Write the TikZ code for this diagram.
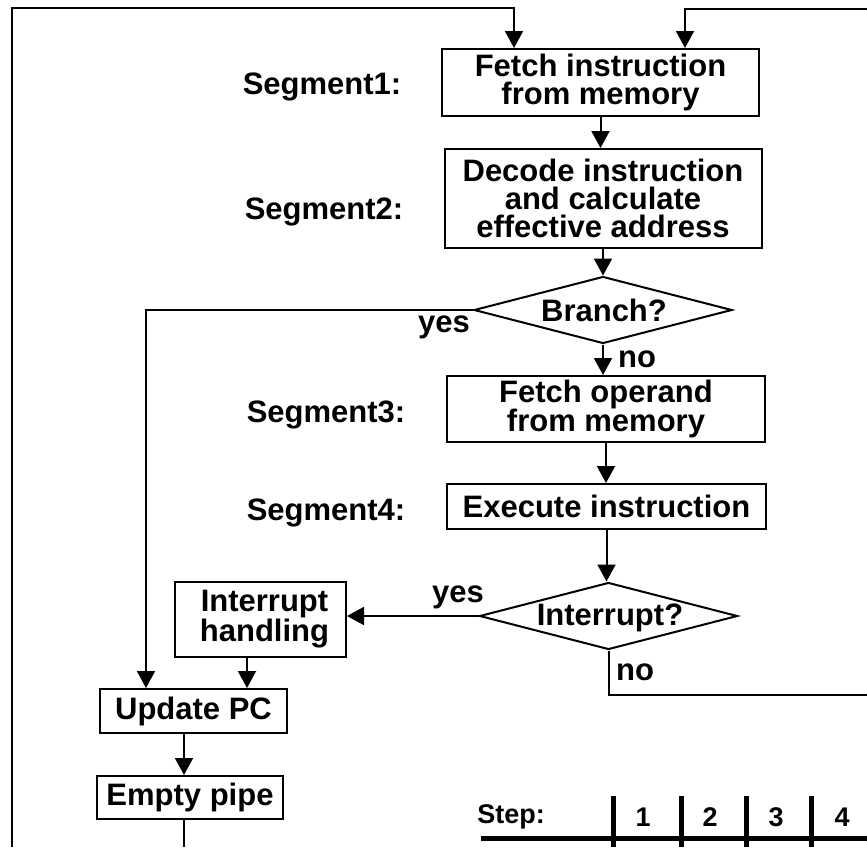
\documentclass[tikz,border=0pt]{standalone}
\usepackage{fontspec}
\setmainfont{Liberation Sans}
\usetikzlibrary{arrows.meta,shapes.geometric}
\begin{document}
\begin{tikzpicture}[x=1pt,y=-1pt,
  every node/.style={font=\bfseries\fontsize{31}{28}\selectfont, inner sep=0pt},
  box/.style={draw, line width=2pt, align=center},
  dia/.style={draw, diamond, line width=2pt, minimum width=258pt, minimum height=67pt},
  ln/.style={line width=2pt},
  arr/.style={line width=2pt, -{Triangle[length=17pt,width=18pt]}},
  tbl/.style={line width=5pt},
  tnum/.style={font=\bfseries\fontsize{27}{27}\selectfont}]
\useasboundingbox (0,0) rectangle (867,847);

% boxes
\node[box, minimum width=317pt, minimum height=67pt] (f1) at (600.5,82.5) {Fetch instruction\\from memory};
\node[box, minimum width=317pt, minimum height=99pt] (dec) at (603,198.5) {Decode instruction\\and calculate\\effective address};
\node[dia] (br) at (603,310) {};
\node (brt) at (604,310) {Branch?};
\node[box, minimum width=318pt, minimum height=66pt] (fo) at (606,409) {Fetch operand\\from memory};
\node[box, minimum width=319pt, minimum height=45pt] (ex) at (606.5,506.5) {Execute instruction};
\node[dia] (int) at (608.5,616) {};
\node (intt) at (610,618) {Interrupt?};
\node[box, minimum width=171pt, minimum height=75pt] (ih) at (260.5,619.5) {\hspace*{8pt}Interrupt\\\hspace*{8pt}handling};
\node[box, minimum width=187pt, minimum height=44pt] (upd) at (193.5,711) {Update PC};
\node[box, minimum width=186pt, minimum height=43pt] (ep) at (190,797.5) {Empty pipe};

% segment labels
\node (s1) at (322,87) {Segment1:};
\node (s2) at (324,212) {Segment2:};
\node (s3) at (326,415) {Segment3:};
\node (s4) at (326,513) {Segment4:};

% connectors
\coordinate (tl) at (12,847);
\coordinate (tlc) at (12,8);
\coordinate (a1) at (514,8);
\draw[arr] (tl) -- (tlc) -- (a1) -- (a1 |- f1.north);
\coordinate (rr) at (867,9);
\coordinate (a2) at (685,9);
\draw[arr] (rr) -- (a2) -- (a2 |- f1.north);

\draw[arr] (f1.south) -- (f1.south |- dec.north);
\draw[arr] (dec.south) -- (dec.south |- br.north);

\coordinate (yx) at (146,310);
\draw[arr] (br.west) -- (yx) -- (yx |- upd.north);
\node (yes1) at (444,327) {yes};

\draw[arr] (br.south) -- (br.south |- fo.north);
\node (no1) at (637,359) {no};
\draw[arr] (fo.south) -- (fo.south |- ex.north);
\draw[arr] (ex.south) -- (ex.south |- int.north);

\draw[arr] (int.west) -- (int.west -| ih.east);
\node (yes2) at (458,597) {yes};

\coordinate (nr) at (867,695);
\draw[ln] (int.south) -- (int.south |- nr) -- (nr);
\node (no2) at (635,672) {no};

\coordinate (ihs) at (247,657);
\draw[arr] (ihs) -- (ihs |- upd.north);

\coordinate (us) at (184,733);
\draw[arr] (us) -- (us |- ep.north);
\coordinate (bot) at (184,847);
\draw[ln] (us |- ep.south) -- (bot);

% step table
\node[tnum] (st) at (511,817) {Step:};
\draw[tbl] (481,838) -- (867,838);
\foreach \xx in {613,681,746,811} \draw[tbl] (\xx,796) -- (\xx,847);
\node[tnum] (n1) at (643,817) {1};
\node[tnum] (n2) at (710,817) {2};
\node[tnum] (n3) at (776,817) {3};
\node[tnum] (n4) at (842,817) {4};
\end{tikzpicture}
\end{document}
